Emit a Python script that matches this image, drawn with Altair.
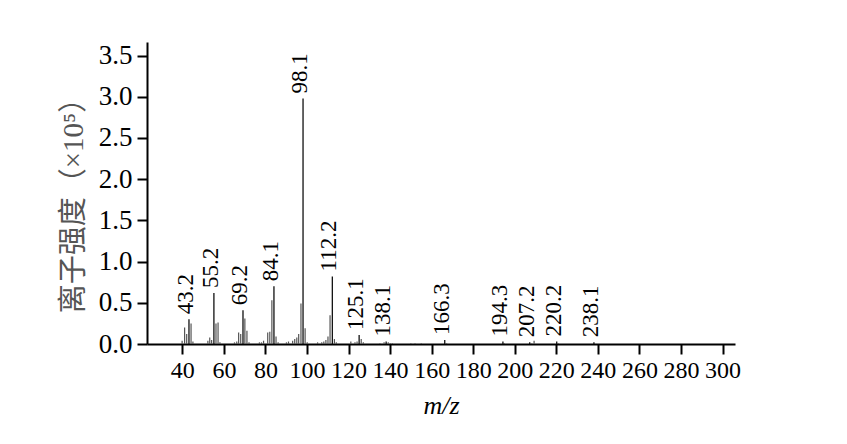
import altair as alt
import pandas as pd

# Labelled peaks (m/z, intensity x10^5)
peak_mz = [43.2, 55.2, 69.2, 84.1, 98.1, 112.2, 125.1, 138.1, 166.3, 194.3, 207.2, 220.2, 238.1]
peak_int = [0.30, 0.62, 0.41, 0.70, 2.98, 0.82, 0.11, 0.03, 0.05, 0.03, 0.02, 0.03, 0.02]
peak_lab = ["43.2", "55.2", "69.2", "84.1", "98.1", "112.2", "125.1", "138.1", "166.3",
            "194.3", "207.2", "220.2", "238.1"]

# Minor (unlabelled) peaks
minor_mz = [39.9, 41.1, 42.1, 44.2, 45.1,
            52.3, 53.2, 54.1, 56.2, 57.2, 58.1,
            65.1, 66.2, 67.1, 68.1, 70.1, 71.1, 72.1,
            77.1, 78.1, 79.1, 81.1, 82.1, 83.1, 85.1, 86.1,
            90.1, 91.1, 93.1, 94.1, 95.1, 96.0, 97.1, 99.1, 100.1,
            105.1, 107.1, 108.1, 109.1, 110.1, 111.1, 113.2, 114.1,
            121.1, 123.1, 124.1, 126.1, 127.1,
            135.1, 137.1, 139.1, 140.1, 141.1,
            150.0, 152.0, 155.0, 167.2,
            195.0, 208.2, 209.3, 221.0]
minor_int = [0.04, 0.20, 0.12, 0.25, 0.03,
             0.04, 0.08, 0.05, 0.25, 0.26, 0.02,
             0.02, 0.03, 0.14, 0.12, 0.31, 0.16, 0.02,
             0.02, 0.02, 0.04, 0.14, 0.15, 0.53, 0.09, 0.02,
             0.02, 0.03, 0.04, 0.06, 0.08, 0.12, 0.49, 0.19, 0.02,
             0.02, 0.02, 0.03, 0.05, 0.09, 0.35, 0.06, 0.02,
             0.03, 0.02, 0.03, 0.06, 0.02,
             0.01, 0.02, 0.02, 0.01, 0.01,
             0.01, 0.01, 0.01, 0.01,
             0.01, 0.01, 0.04, 0.01]

x_ticks = list(range(40, 301, 20))
y_ticks = [0.0, 0.5, 1.0, 1.5, 2.0, 2.5, 3.0, 3.5]

peaks = pd.DataFrame({"mz": peak_mz, "inten": peak_int, "label": peak_lab})
minor = pd.DataFrame({"mz": minor_mz, "inten": minor_int})

SERIF = "Liberation Serif, Noto Sans CJK SC, serif"

x_enc = alt.X("mz:Q",
              scale=alt.Scale(domain=[23, 306], nice=False, zero=False),
              axis=alt.Axis(values=x_ticks, title="m/z", titleFontStyle="italic",
                            titleFontWeight="normal", titleFontSize=26, titleFont=SERIF,
                            titlePadding=10, labelFontSize=24, labelFont=SERIF,
                            labelPadding=4, tickSize=10, tickWidth=2, domainWidth=2,
                            domainColor="black", tickColor="black", labelColor="black",
                            titleColor="black", grid=False, labelFlush=False))
y_enc = alt.Y("inten:Q",
              scale=alt.Scale(domain=[0, 3.665], nice=False),
              axis=alt.Axis(values=y_ticks, format=".1f", title="离子强度（×10⁵）",
                            titleFontWeight="normal", titleFontSize=29, titleFont=SERIF,
                            titleColor="#555", titlePadding=10, titleY=156,
                            labelFontSize=27, labelFont=SERIF, labelPadding=5,
                            tickSize=10, tickWidth=2, domainWidth=2,
                            domainColor="black", tickColor="black", labelColor="black",
                            grid=False, labelFlush=False))

minor_rules = alt.Chart(minor).mark_rule(color="#555", strokeWidth=1.2).encode(
    x=x_enc, y=y_enc, y2=alt.datum(0))

major_rules = alt.Chart(peaks).mark_rule(color="#111", strokeWidth=1.3).encode(
    x=alt.X("mz:Q"), y=alt.Y("inten:Q"), y2=alt.datum(0))

labels = alt.Chart(peaks).mark_text(angle=270, align="left", baseline="middle",
                                    dx=5, dy=-3, fontSize=23, font="Liberation Serif",
                                    color="black").encode(
    x=alt.X("mz:Q"), y=alt.Y("inten:Q"), text="label:N")

chart = alt.layer(minor_rules, major_rules, labels).properties(
    width=588, height=302,
    autosize=alt.AutoSizeParams(type="none"),
    padding={"left": 139, "top": 34, "right": 100, "bottom": 90},
    background="white",
).configure_view(stroke=None)

chart.save("out.html", embed_options={"renderer": "svg", "actions": False})
